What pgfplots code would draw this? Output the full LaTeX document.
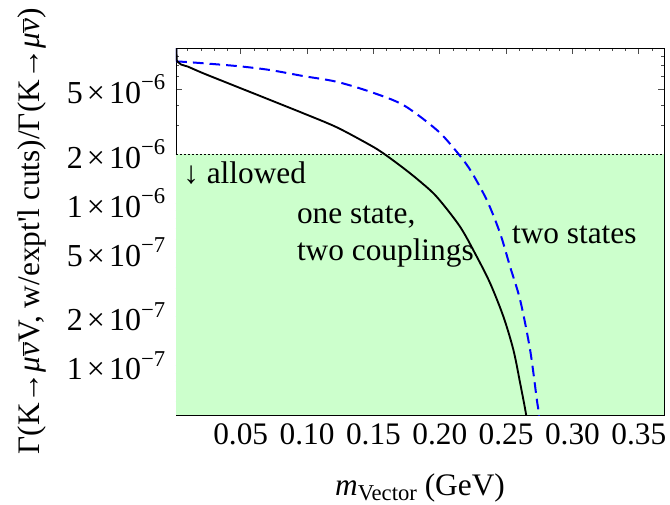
\documentclass[border=0pt]{standalone}
\usepackage{fontspec}
\setmainfont{Liberation Serif}
\usepackage{pgfplots}
\pgfplotsset{compat=1.18}
\definecolor{greenfill}{RGB}{204,255,204}
\newcommand{\sci}[2]{#1\hspace{0.13em}×\hspace{0.13em}10\raisebox{0.42em}{\fontsize{17}{17}\selectfont −#2}}
\newcommand{\nub}{$\overline{\hbox{\itshape ν}}$}
\begin{document}
\begin{tikzpicture}
\begin{axis}[
  at={(0,0)}, anchor=south west,
  scale only axis, width=366pt, height=275.25pt,
  ymode=log,
  xmin=0.0012, xmax=0.369, ymin=4.98e-8, ymax=8.97e-6,
  axis line style={black, line width=0.6pt},
  tick style={black!70, line width=0.6pt},
  major tick length=4.5pt, minor tick length=2.25pt,
  xtick={0.05,0.10,0.15,0.20,0.25,0.30,0.35},
  xticklabels={0.05,0.10,0.15,0.20,0.25,0.30,0.35},
  minor xtick={0.01,0.02,0.03,0.04,0.06,0.07,0.08,0.09,0.11,0.12,0.13,0.14,0.16,0.17,0.18,0.19,0.21,0.22,0.23,0.24,0.26,0.27,0.28,0.29,0.31,0.32,0.33,0.34,0.36},
  ytick={1e-7,2e-7,5e-7,1e-6,2e-6,5e-6},
  yticklabels={\sci{1}{7},\sci{2}{7},\sci{5}{7},\sci{1}{6},\sci{2}{6},\sci{5}{6}},
  minor ytick={6e-8,7e-8,8e-8,9e-8,3e-7,4e-7,6e-7,7e-7,8e-7,9e-7,3e-6,4e-6,6e-6,7e-6,8e-6,9e-6},
  xticklabel style={font=\fontsize{23.5}{25}\selectfont, yshift=-3pt},
  yticklabel style={font=\fontsize{24}{26}\selectfont, xshift=-4.5pt},
  every axis y label/.style={at={(axis description cs:-0.295,0.5)}, rotate=90, anchor=center, font=\fontsize{23.5}{25}\selectfont},
  every axis x label/.style={at={(axis description cs:0.5,-0.198)}, anchor=center, font=\fontsize{23.5}{25}\selectfont},
  ylabel={Γ(K→\textit{μ}\nub V, w/expt\textquotesingle l cuts)/Γ(K→\textit{μ}\nub)},
  xlabel={\textit{m}\raisebox{-0.35ex}{\fontsize{17}{17}\selectfont Vector} (GeV)},
]
\addplot[fill=greenfill, draw=none] coordinates {(0.0012,4.98e-8) (0.369,4.98e-8) (0.369,2e-6) (0.0012,2e-6)};
\addplot[black, line width=0.6pt, dash pattern=on 1.2pt off 1.8pt] coordinates {(0.0012,2e-6) (0.369,2e-6)};
% two states
\addplot[blue, line width=1.5pt] coordinates {(0.0012,1.2e-5) (0.0014,7.4e-6)};
\addplot[blue, line width=1.5pt, dash pattern=on 8pt off 4.5pt, smooth, tension=0.5] coordinates {
(0.0014,7.4e-6) (0.01,7.35e-6) (0.047,6.95e-6) (0.072,6.57e-6) (0.0972,6.03e-6) (0.122,5.57e-6) (0.1475,4.83e-6) (0.1726,4.0e-6) (0.1978,2.81e-6) (0.2116,2.12e-6) (0.2229,1.60e-6) (0.2355,1.04e-6) (0.2455,6.51e-7) (0.2530,4.06e-7) (0.2606,2.53e-7) (0.2681,1.25e-7) (0.2732,6.15e-8) (0.2744,5.3e-8) (0.275,4.5e-8)
};
% one state, two couplings
\addplot[black, line width=1.4pt] coordinates {(0.0013,1.2e-5) (0.0017,7.5e-6)};
\addplot[black, line width=1.4pt, smooth, tension=0.5] coordinates {
(0.0017,7.5e-6) (0.005,7.1e-6) (0.01,6.9e-6) (0.0218,6.27e-6) (0.047,5.19e-6) (0.0721,4.30e-6) (0.0972,3.56e-6) (0.1224,2.92e-6) (0.1475,2.27e-6) (0.1575,2.02e-6) (0.1726,1.64e-6) (0.185,1.36e-6) (0.1978,1.09e-6) (0.2153,7.15e-7) (0.2279,4.68e-7) (0.2380,3.21e-7) (0.2480,2.0e-7) (0.2555,1.25e-7) (0.2606,7.8e-8) (0.2651,4.98e-8) (0.266,4e-8)
};
\node[anchor=west, inner sep=0pt, font=\fontsize{23.5}{25}\selectfont] at (axis cs:0.0065,1.53e-6) {↓ allowed};
\node[anchor=west, inner sep=0pt, align=left, font=\fontsize{23.5}{27.5}\selectfont] at (axis cs:0.0922,6.2e-7) {one state,\\two couplings};
\node[anchor=west, inner sep=0pt, font=\fontsize{23.5}{25}\selectfont] at (axis cs:0.2543,6.36e-7) {two states};
\end{axis}
\pgfresetboundingbox
\path[use as bounding box] (-132pt,-67.5pt) rectangle (370.5pt,311.25pt);
\end{tikzpicture}
\end{document}
